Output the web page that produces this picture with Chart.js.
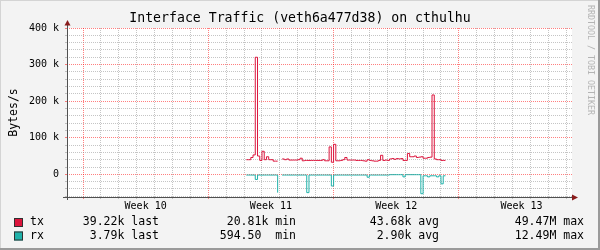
<!DOCTYPE html>
<html>
<head>
<meta charset="utf-8">
<script src="https://cdn.jsdelivr.net/npm/chart.js@4.4.1/dist/chart.umd.min.js"></script>
<style>
html, body { margin: 0; padding: 0; background: #f3f3f3; }
canvas { display: block; }
</style>
</head>
<body>
<canvas id="traffic" width="600" height="250"></canvas>
<script>
// traffic in kB/s, one sample every 3 hours, day 0 = start of week 10
var startDay = 9.125;
var stepDay = 0.125;

var txValues = [
    40, 40, 46, 53, 320, 50, 38, 63, 40, 48,
    40, 40, 36, 36, 36, null, 42, 40, 42, 39,
    39, 39, 39, 40, 44, 37, 38, 38, 38, 38,
    38, 38, 38, 38, 40, 37, 37, 75, 33, 82,
    37, 37, 38, 40, 46, 39, 39, 39, 39, 38,
    38, 38, 37, 36, 40, 38, 37, 36, 36, 38,
    52, 38, 39, 38, 42, 43, 41, 43, 42, 43,
    38, 38, 57, 48, 48, 50, 46, 47, 48, 44,
    44, 46, 47, 217, 42, 40, 40, 38, 38, 38
];

// rx is drawn mirrored below the zero line
var rxValues = [
    2, 2, 2, 2, 14, 2, 2, 2, 2, 2,
    2, 2, 2, 2, 50, null, 2, 2, 2, 2,
    2, 2, 2, 2, 2, 2, 2, 50, 2, 2,
    2, 2, 2, 2, 2, 2, 2, 2, 32, 2,
    2, 2, 2, 2, 2, 2, 2, 2, 2, 2,
    2, 2, 2, 2, 8, 2, 2, 2, 2, 2,
    2, 2, 2, 2, 1, 1, 1, 1, 1, 1,
    7, 1, 1, 1, 1, 1, 1, 1, 53, 4,
    4, 7, 4, 4, 4, 7, 4, 26, 4, 4
];

var weekStarts = [0, 7, 14, 21];
var weekLabels = ['Week 10', 'Week 11', 'Week 12', 'Week 13'];
var yMajorTicks = [0, 100, 200, 300, 400];
var yTickLabels = ['0', '100 k', '200 k', '300 k', '400 k'];

var txStats = ['39.22k last', '20.81k min', '43.68k avg', '49.47M max'];
var rxStats = ['3.79k last', '594.50  min', '2.90k avg', '12.49M max'];

var chartTitle = 'Interface Traffic (veth6a477d38) on cthulhu';
var txColor = '#dc143c';
var rxColor = '#20b2aa';
var mono = "'DejaVu Sans Mono', monospace";

var txPoints = txValues.map(function(v, i) {
    return {x: startDay + i * stepDay, y: v};
});
var rxPoints = rxValues.map(function(v, i) {
    return {x: startDay + i * stepDay, y: v === null ? null : -v};
});

var rrdFrame = {
    id: 'rrdFrame',
    beforeDraw: function(chart) {
        var ctx = chart.ctx;
        var a = chart.chartArea;
        ctx.save();
        ctx.fillStyle = '#f3f3f3';
        ctx.fillRect(0, 0, chart.width, chart.height);
        ctx.fillStyle = '#d4d4d4';
        ctx.fillRect(0, 0, chart.width, 1);
        ctx.fillRect(0, 0, 1, chart.height);
        ctx.fillStyle = '#9a9a9a';
        ctx.fillRect(chart.width - 2, 0, 2, chart.height);
        ctx.fillRect(0, chart.height - 2, chart.width, 2);
        ctx.fillStyle = '#ffffff';
        ctx.fillRect(a.left, a.top, a.right - a.left, a.bottom - a.top);
        ctx.restore();
    },
    afterDraw: function(chart) {
        var ctx = chart.ctx;
        var a = chart.chartArea;
        ctx.save();

        // title, centred on the whole image
        ctx.font = '13.2px ' + mono;
        ctx.fillStyle = '#000';
        ctx.textAlign = 'center';
        ctx.textBaseline = 'middle';
        ctx.fillText(chartTitle, 300, 19);

        // axes
        ctx.strokeStyle = '#505050';
        ctx.lineWidth = 1;
        ctx.beginPath();
        ctx.moveTo(a.left - 4, a.bottom + 0.5);
        ctx.lineTo(a.right + 1, a.bottom + 0.5);
        ctx.moveTo(a.left + 0.5, a.bottom + 3);
        ctx.lineTo(a.left + 0.5, a.top - 4);
        ctx.stroke();

        // arrows
        ctx.fillStyle = '#8a1c1c';
        ctx.beginPath();
        ctx.moveTo(a.left + 0.5, a.top - 8);
        ctx.lineTo(a.left + 3.5, a.top - 2.5);
        ctx.lineTo(a.left - 2.5, a.top - 2.5);
        ctx.closePath();
        ctx.fill();
        ctx.beginPath();
        ctx.moveTo(a.right + 6, a.bottom + 0.5);
        ctx.lineTo(a.right, a.bottom + 3.5);
        ctx.lineTo(a.right, a.bottom - 2.5);
        ctx.closePath();
        ctx.fill();

        // legend
        var rows = [
            {name: 'tx', color: txColor, stats: txStats, y: 222.5},
            {name: 'rx', color: rxColor, stats: rxStats, y: 236}
        ];
        var statEnds = [159, 296, 439, 584];
        ctx.font = '11.5px ' + mono;
        ctx.textBaseline = 'middle';
        rows.forEach(function(r) {
            ctx.fillStyle = r.color;
            ctx.fillRect(14, r.y - 4.5, 9, 9);
            ctx.strokeStyle = '#303030';
            ctx.strokeRect(14.5, r.y - 4, 8, 8);
            ctx.fillStyle = '#000';
            ctx.textAlign = 'left';
            ctx.fillText(r.name, 30, r.y);
            ctx.textAlign = 'right';
            r.stats.forEach(function(s, k) {
                ctx.fillText(s, statEnds[k], r.y);
            });
        });

        // watermark
        ctx.translate(590, 5);
        ctx.rotate(Math.PI / 2);
        ctx.font = '8.3px ' + mono;
        ctx.fillStyle = '#b4b4b4';
        ctx.textAlign = 'left';
        ctx.textBaseline = 'middle';
        ctx.fillText('RRDTOOL / TOBI OETIKER', 0, 0);
        ctx.restore();
    }
};

var majorGrid = 'rgba(255, 0, 0, 0.5)';
var minorGrid = 'rgba(140, 140, 140, 0.5)';

new Chart(document.getElementById('traffic'), {
    type: 'line',
    data: {
        datasets: [
            {
                label: 'tx',
                data: txPoints,
                borderColor: txColor,
                borderWidth: 1,
                pointRadius: 0,
                stepped: true,
                spanGaps: false,
                fill: false
            },
            {
                label: 'rx',
                data: rxPoints,
                borderColor: rxColor,
                borderWidth: 1,
                pointRadius: 0,
                stepped: true,
                spanGaps: false,
                fill: false
            }
        ]
    },
    options: {
        responsive: false,
        animation: false,
        layout: {
            padding: {top: 28, left: 0, right: 28, bottom: 0}
        },
        scales: {
            x: {
                type: 'linear',
                min: -0.894,
                max: 27.32,
                afterBuildTicks: function(scale) {
                    var ticks = [];
                    for (var d = 0; d <= 27; d += 0.5) {
                        ticks.push({value: d});
                    }
                    scale.ticks = ticks;
                },
                afterFit: function(scale) {
                    scale.height = 53;
                },
                grid: {
                    drawTicks: true,
                    tickLength: 2,
                    color: function(c) {
                        var v = c.tick ? c.tick.value : 0.5;
                        if (v % 7 === 0) {
                            return majorGrid;
                        }
                        if (v % 1 === 0) {
                            return minorGrid;
                        }
                        return 'rgba(0, 0, 0, 0)';
                    }
                },
                border: {display: false, dash: [1, 1]},
                ticks: {
                    autoSkip: false,
                    maxRotation: 0,
                    padding: 1,
                    color: '#000',
                    font: {family: mono, size: 10},
                    callback: function(value) {
                        var k = weekStarts.indexOf(value - 3.5);
                        return k >= 0 ? weekLabels[k] : '';
                    }
                }
            },
            y: {
                min: -62,
                max: 400,
                afterBuildTicks: function(scale) {
                    var ticks = [];
                    for (var v = -60; v <= 400; v += 20) {
                        ticks.push({value: v});
                    }
                    scale.ticks = ticks;
                },
                afterFit: function(scale) {
                    scale.width = 67;
                },
                grid: {
                    drawTicks: true,
                    tickLength: 2,
                    color: function(c) {
                        var v = c.tick ? c.tick.value : 20;
                        return v % 100 === 0 ? majorGrid : minorGrid;
                    }
                },
                border: {display: false, dash: [1, 1]},
                title: {
                    display: true,
                    text: 'Bytes/s',
                    color: '#000',
                    font: {family: mono, size: 11.5},
                    padding: {top: 7, bottom: 0}
                },
                ticks: {
                    autoSkip: false,
                    padding: 6,
                    color: '#000',
                    font: {family: mono, size: 10},
                    callback: function(value) {
                        var k = yMajorTicks.indexOf(value);
                        return k >= 0 ? yTickLabels[k] : '';
                    }
                }
            }
        },
        plugins: {
            legend: {display: false},
            tooltip: {enabled: false},
            title: {display: false}
        }
    },
    plugins: [rrdFrame]
});
</script>
</body>
</html>
